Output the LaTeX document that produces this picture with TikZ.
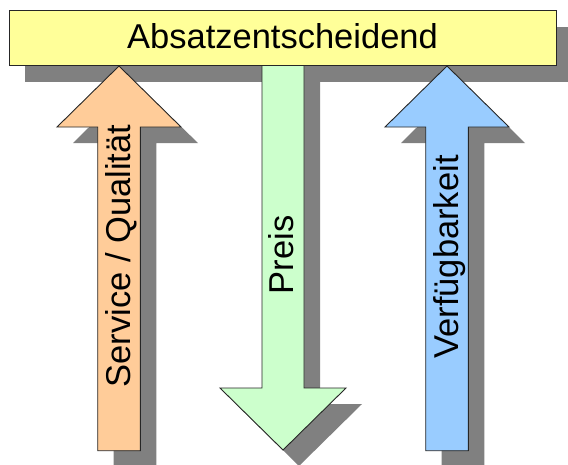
\documentclass[tikz,border=0pt]{standalone}
\usepackage{fontspec}
\setmainfont{Liberation Sans}
\definecolor{boxyellow}{HTML}{FFFF99}
\definecolor{arrorange}{HTML}{FFCC99}
\definecolor{arrgreen}{HTML}{CCFFCC}
\definecolor{arrblue}{HTML}{99CCFF}
\definecolor{shadowgray}{HTML}{808080}
\begin{document}
\begin{tikzpicture}[x=1pt,y=-1pt,
  shadowshape/.style={fill=shadowgray,draw=none},
  outline/.style={draw=black!85,line width=0.9pt,line join=miter},
  label/.style={font=\fontsize{34.5}{40}\selectfont,text=black,inner sep=0pt,anchor=base},
  vlabel/.style={label,rotate=90}]
\useasboundingbox (0,0) rectangle (568,464);
\begin{scope}
\clip (0,0) rectangle (568,464);
% shadows
\path[shadowshape] (25,27) rectangle (572,82);
\path[shadowshape] (135,82) -- (198,143) -- (156.3,143) -- (156.3,466.7) -- (113.7,466.7) -- (113.7,143) -- (73,143) -- cycle;
\path[shadowshape] (278,81) -- (320,81) -- (320,404) -- (362,404) -- (299,466) -- (236,404) -- (278,404) -- cycle;
\path[shadowshape] (463,82) -- (525,143) -- (484.3,143) -- (484.3,466.7) -- (441.7,466.7) -- (441.7,143) -- (401,143) -- cycle;
% arrows
\path[outline,fill=arrorange] (119,66) -- (181,127) -- (140.3,127) -- (140.3,450.7) -- (97.7,450.7) -- (97.7,127) -- (57,127) -- cycle;
\path[outline,fill=arrgreen] (262,65) -- (304,65) -- (304,388) -- (346,388) -- (283,450) -- (220,388) -- (262,388) -- cycle;
\path[outline,fill=arrblue] (447,66) -- (509,127) -- (468.3,127) -- (468.3,450.7) -- (425.7,450.7) -- (425.7,127) -- (385,127) -- cycle;
% top box
\path[outline,fill=boxyellow] (9,10) rectangle (556,65);
\end{scope}
\node[label] (top) at (282.5,48.7) {Absatzentscheidend};
\node[vlabel] (service) at (130.5,256) {Service / Qualität};
\node[vlabel] (preis) at (293,255) {Preis};
\node[vlabel] (verf) at (458,257) {Verfügbarkeit};
\end{tikzpicture}
\end{document}
